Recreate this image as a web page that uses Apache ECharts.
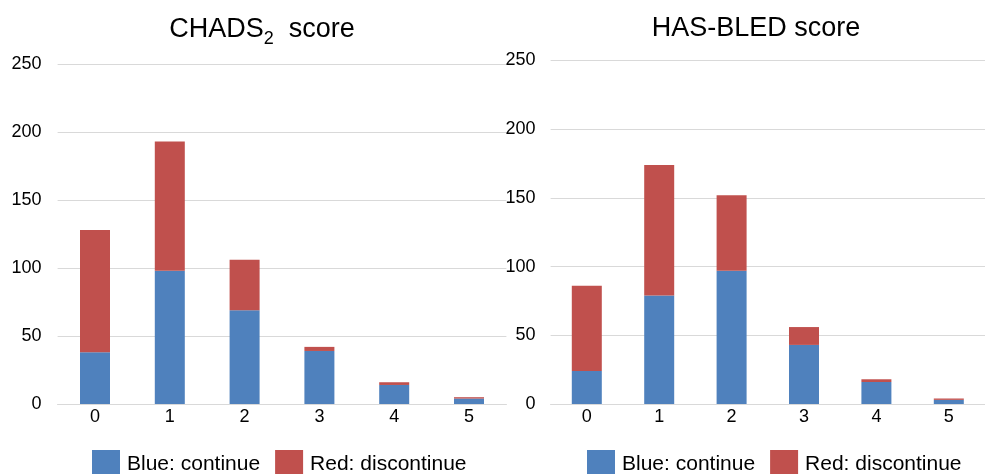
<!DOCTYPE html>
<html>
<head>
<meta charset="utf-8">
<script src="https://cdn.jsdelivr.net/npm/echarts@6/dist/echarts.min.js"></script>
<style>
  html, body { margin: 0; padding: 0; background: #fff; }
  #chart { width: 985px; height: 474px; }
</style>
</head>
<body>
<div id="chart"></div>
<script>
// 数据
const scores = ["0", "1", "2", "3", "4", "5"];
const chadsContinue = [38, 98, 69, 39, 14, 4];
const chadsDiscontinue = [90, 95, 37, 3, 2, 1];
const hasbledContinue = [24, 79, 97, 43, 16, 3];
const hasbledDiscontinue = [62, 95, 55, 13, 2, 1];
const yTicks = [0, 50, 100, 150, 200, 250];

const blue = "#4F81BD";
const red = "#C0504D";
const font = "Liberation Sans";

let chart = echarts.init(document.getElementById("chart"), null, { renderer: "canvas" });

// 坐标轴公共样式
let xAxisBase = (gridIndex) => ({
    type: "category",
    gridIndex: gridIndex,
    data: scores,
    axisTick: { show: false },
    axisLine: { lineStyle: { color: "#d9d9d9", width: 1 } },
    axisLabel: { color: "#000", fontSize: 18, fontFamily: font, margin: 4 }
});

let yAxisBase = (gridIndex, margin) => ({
    type: "value",
    gridIndex: gridIndex,
    min: yTicks[0],
    max: yTicks[yTicks.length - 1],
    interval: yTicks[1] - yTicks[0],
    axisLine: { show: false },
    axisTick: { show: false },
    splitLine: { lineStyle: { color: "#d9d9d9", width: 1 } },
    axisLabel: { color: "#000", fontSize: 18, fontFamily: font, margin: margin }
});

let barBase = (name, data, color, idx) => ({
    name: name,
    type: "bar",
    stack: "s" + idx,
    xAxisIndex: idx,
    yAxisIndex: idx,
    barWidth: 30,
    data: data,
    itemStyle: { color: color }
});

let legendBase = (left) => ({
    left: left,
    top: 450,
    padding: 0,
    itemWidth: 28,
    itemHeight: 28,
    itemGap: 15,
    icon: "rect",
    textStyle: { fontSize: 21, fontFamily: font, color: "#000", padding: [0, 0, 0, 2] },
    data: ["Blue: continue", "Red: discontinue"]
});

let option = {
    backgroundColor: "#fff",
    animation: false,
    title: [
        {
            text: "{m|CHADS}{sub|2}{m|  score}",
            left: 257,
            top: 11,
            textAlign: "center",
            textStyle: {
                fontWeight: "normal",
                rich: {
                    m: { fontSize: 27, lineHeight: 30, fontWeight: "normal", fontFamily: font, color: "#000", verticalAlign: "top" },
                    sub: { fontSize: 18, lineHeight: 18, fontWeight: "normal", fontFamily: font, color: "#000", verticalAlign: "top", padding: [14, 0, 0, 0] }
                }
            }
        },
        {
            text: "HAS-BLED score",
            left: 751,
            top: 10,
            textAlign: "center",
            textStyle: { fontSize: 27, fontWeight: "normal", fontFamily: font, color: "#000" }
        }
    ],
    legend: [legendBase(92), legendBase(587)],
    grid: [
        { left: 57.6, top: 64, width: 448.8, bottom: 70, containLabel: false },
        { left: 550.6, top: 60.5, right: -14, bottom: 70, containLabel: false }
    ],
    xAxis: [xAxisBase(0), xAxisBase(1)],
    yAxis: [yAxisBase(0, 16), yAxisBase(1, 15)],
    series: [
        barBase("Blue: continue", chadsContinue, blue, 0),
        barBase("Red: discontinue", chadsDiscontinue, red, 0),
        barBase("Blue: continue", hasbledContinue, blue, 1),
        barBase("Red: discontinue", hasbledDiscontinue, red, 1)
    ]
};

chart.setOption(option);
</script>
</body>
</html>
